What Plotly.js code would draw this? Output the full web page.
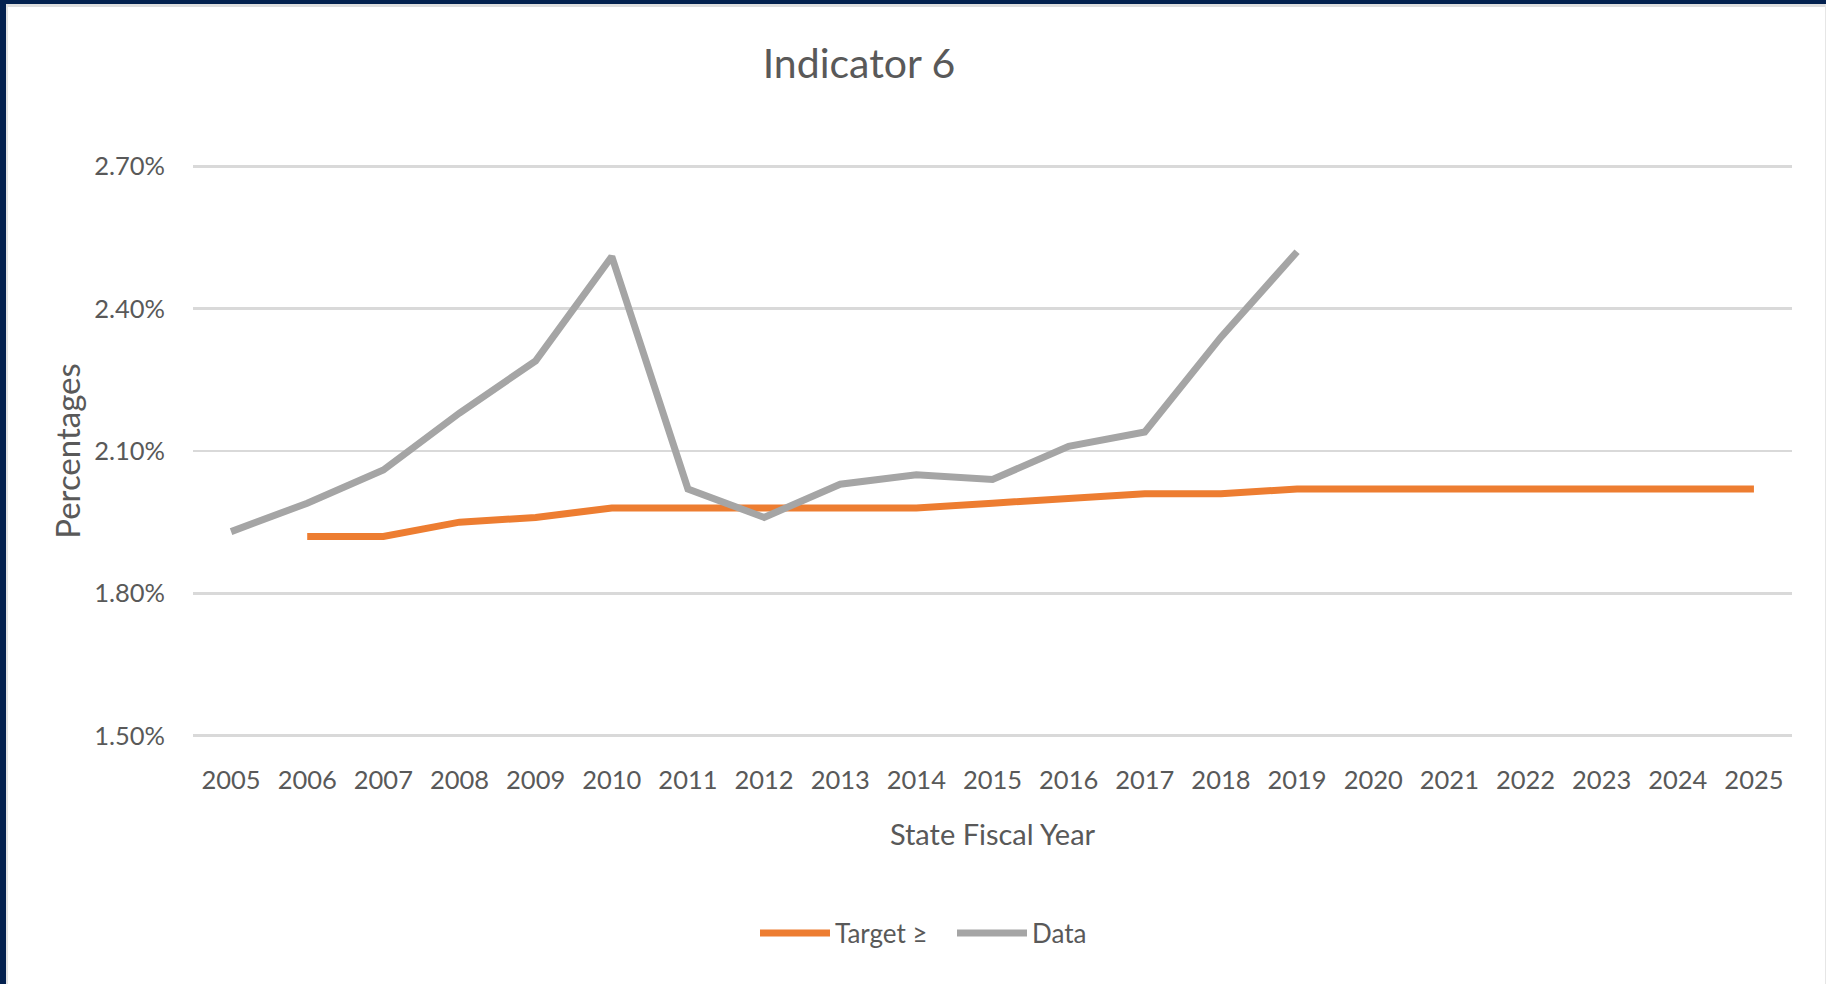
<!DOCTYPE html>
<html>
<head>
<meta charset="utf-8">
<script src="https://cdn.plot.ly/plotly-3.0.1.min.js"></script>
<style>
  html, body { margin: 0; padding: 0; background: #ffffff; }
  #chart { position: absolute; left: 0; top: 0; width: 1826px; height: 984px; }
  #frame { position: absolute; left: 0; top: 0; width: 1826px; height: 984px; pointer-events: none; }
  #navyL { position: absolute; left: 0; top: 0; width: 6px; height: 984px; background: #03214f; }
  #navyT { position: absolute; left: 0; top: 0; width: 1826px; height: 4px; background: #03214f; }
  #grayL { position: absolute; left: 6px; top: 4px; width: 2px; height: 980px; background: #e3e3e3; }
  #grayT { position: absolute; left: 6px; top: 4px; width: 1820px; height: 3px; background: #dedede; }
  #grayR { position: absolute; left: 1825px; top: 4px; width: 1px; height: 980px; background: #e6e6e6; }
</style>
</head>
<body>
<div id="chart"></div>
<div id="frame"><div id="navyL"></div><div id="navyT"></div><div id="grayL"></div><div id="grayT"></div><div id="grayR"></div></div>
<script>
const years = ["2005","2006","2007","2008","2009","2010","2011","2012","2013","2014","2015",
               "2016","2017","2018","2019","2020","2021","2022","2023","2024","2025"];
const targetValues = [null,1.92,1.92,1.95,1.96,1.98,1.98,1.98,1.98,1.98,1.99,
                      2.00,2.01,2.01,2.02,2.02,2.02,2.02,2.02,2.02,2.02];
const dataValues = [1.93,1.99,2.06,2.18,2.29,2.51,2.02,1.96,2.03,2.05,2.04,
                    2.11,2.14,2.34,2.52,null,null,null,null,null,null];
const yTicks = [1.5,1.8,2.1,2.4,2.7];
const yTickLabels = ["1.50%","1.80%","2.10%","2.40%","2.70%"];

const txt = "#595959";
const fam = "Lato, 'Open Sans', sans-serif";

const traces = [
  { x: years, y: targetValues, name: "Target \u2265", type: "scatter", mode: "lines",
    line: { color: "#ED7D31", width: 7 }, connectgaps: false },
  { x: years, y: dataValues, name: "Data", type: "scatter", mode: "lines",
    line: { color: "#A5A5A5", width: 7 }, connectgaps: false }
];

const layout = {
  width: 1826, height: 984,
  paper_bgcolor: "#ffffff", plot_bgcolor: "#ffffff",
  margin: { l: 193, r: 34, t: 164, b: 246 },
  title: { text: "Indicator 6", font: { family: fam, size: 41, color: txt },
           x: 859/1826, xanchor: "center", xref: "container",
           y: 1 - 64/984, yanchor: "middle", yref: "container" },
  xaxis: {
    type: "category", range: [-0.5, 20.5],
    showgrid: false, zeroline: false, showline: false, ticks: "",
    tickfont: { family: fam, size: 25.5, color: txt },
    ticklabelstandoff: 24,
    title: { text: "State Fiscal Year", font: { family: fam, size: 29, color: txt }, standoff: 32 }
  },
  yaxis: {
    range: [1.495, 2.705], tickvals: yTicks, ticktext: yTickLabels,
    showgrid: true, gridcolor: "#D9D9D9", gridwidth: 2.5,
    zeroline: false, showline: false, ticks: "",
    tickfont: { family: fam, size: 25.5, color: txt },
    ticklabelstandoff: 27,
    title: { text: "Percentages", font: { family: fam, size: 33, color: txt }, standoff: 3 }
  },
  showlegend: true,
  legend: {
    orientation: "h", xref: "container", yref: "container",
    x: 755/1826, xanchor: "left", y: 1 - 933/984, yanchor: "middle",
    font: { family: fam, size: 26, color: txt },
    itemwidth: 70, entrywidth: 112, entrywidthmode: "pixels",
    tracegroupgap: 0, bgcolor: "rgba(0,0,0,0)"
  },
  hovermode: false
};

Plotly.newPlot("chart", traces, layout, { displayModeBar: false, staticPlot: true });
</script>
</body>
</html>
